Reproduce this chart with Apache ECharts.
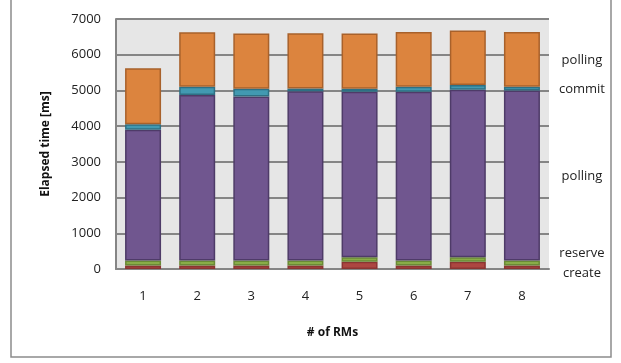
<!DOCTYPE html>
<html><head><meta charset="utf-8">
<script src="https://cdn.jsdelivr.net/npm/echarts@6/dist/echarts.min.js"></script>
<style>html,body{margin:0;padding:0;background:#fff}#c{width:621px;height:363px}</style>
</head><body><div id="c"></div>
<script>
const categories = ['1','2','3','4','5','6','7','8'];
const createVals  = [100, 100, 100, 100, 200, 100, 200, 100];
const reserveVals = [140, 140, 140, 140, 130, 140, 130, 140];
const polling1Vals = [3660, 4630, 4590, 4740, 4630, 4720, 4690, 4760];
const commitVals  = [150, 230, 220, 75, 90, 140, 130, 100];
const polling2Vals = [1570, 1530, 1545, 1545, 1545, 1535, 1530, 1535];
const yTicks = [0, 1000, 2000, 3000, 4000, 5000, 6000, 7000];

const FONT = 'Open Sans';
function mk(name, data, fill, border, labelOffset) {
  return {
    name, type: 'bar', stack: 'total', data, barWidth: 36,
    itemStyle: { color: fill, borderColor: border, borderWidth: 1.5 },
    label: {
      show: true, position: 'right', distance: 42, align: 'center',
      offset: labelOffset, color: '#222', fontFamily: FONT, fontSize: 13,
      formatter: p => p.dataIndex === categories.length - 1 ? name : ''
    },
    emphasis: { disabled: true }
  };
}
const chart = echarts.init(document.getElementById('c'), null, { renderer: 'canvas' });
chart.setOption({
  animation: false,
  backgroundColor: '#fff',
  graphic: [{ type: 'rect', shape: { x: 11, y: -5, width: 600, height: 362 },
    style: { fill: 'none', stroke: '#8c8c8c', lineWidth: 1.5 }, z: -1 }],
  grid: { left: 116, right: 72, top: 19, bottom: 94, show: true, backgroundColor: '#e6e6e6', borderWidth: 0 },
  xAxis: {
    type: 'category', data: categories,
    name: '# of RMs', nameLocation: 'middle', nameGap: 58,
    nameTextStyle: { fontFamily: FONT, fontWeight: 'bold', fontSize: 12, color: '#111' },
    axisLine: { lineStyle: { color: '#858585', width: 2 } },
    axisTick: { show: false },
    axisLabel: { fontFamily: FONT, fontSize: 13, color: '#222', margin: 21 }
  },
  yAxis: {
    type: 'value', min: 0, max: 7000, interval: 1000,
    name: 'Elapsed time [ms]', nameLocation: 'middle', nameGap: 64,
    nameTextStyle: { fontFamily: FONT, fontWeight: 'bold', fontSize: 12, color: '#111' },
    axisLine: { show: true, lineStyle: { color: '#858585', width: 2 } },
    axisTick: { show: false },
    splitLine: { lineStyle: { color: '#858585', width: 2 } },
    axisLabel: { fontFamily: FONT, fontSize: 13, color: '#222', margin: 15,
      formatter: v => yTicks.includes(v) ? String(v) : '' }
  },
  series: [
    mk('create', createVals, '#ad4641', '#8a3532', [0, 6]),
    mk('reserve', reserveVals, '#89ad48', '#6a8a36', [0, -10]),
    mk('polling', polling1Vals, '#70568f', '#4e3b68', [0, 1]),
    mk('commit', commitVals, '#4299b1', '#2e7084', [0, 1]),
    mk('polling', polling2Vals, '#dc843e', '#a8612b', [0, 1])
  ]
});
</script></body></html>
